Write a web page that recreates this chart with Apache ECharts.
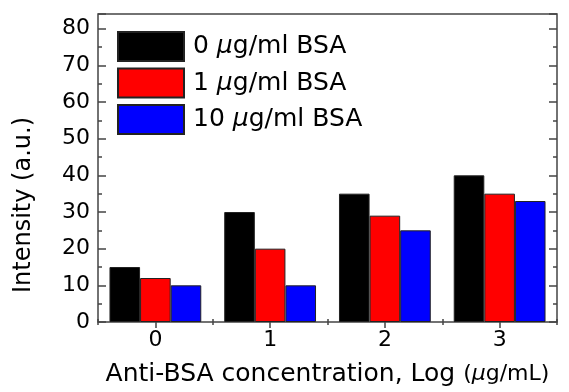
<!DOCTYPE html>
<html>
<head>
<meta charset="utf-8">
<script src="https://cdn.jsdelivr.net/npm/echarts@6/dist/echarts.min.js"></script>
<style>
html,body{margin:0;padding:0;background:#fff;}
#c{width:569px;height:392px;}
</style>
</head>
<body>
<div id="c"></div>
<script>
const categories = ['0', '1', '2', '3'];
const seriesNames = ['0 μg/ml BSA', '1 μg/ml BSA', '10 μg/ml BSA'];
const bsa0 = [15, 30, 35, 40];
const bsa1 = [12, 20, 29, 35];
const bsa10 = [10, 10, 25, 33];
const seriesColors = ['#000000', '#ff0000', '#0000ff'];
const yMin = 0, yMax = 84, yMajor = 10, yMinor = 5;
const xName = 'Anti-BSA concentration, Log ';
const yName = 'Intensity (a.u.)';

const FONT = '"DejaVu Sans", "Liberation Sans", Arial, sans-serif';
const frameColor = '#444';
const textColor = '#000';

function catAxis(pos, align, len, showLabel, extra) {
  return Object.assign({
    type: 'category', data: categories, position: pos,
    axisLine: {show: false},
    axisTick: {show: true, inside: true, alignWithLabel: align, length: len, lineStyle: {color: frameColor, width: 1.5}},
    axisLabel: {show: showLabel, fontFamily: FONT, fontSize: 22, color: textColor, margin: 7},
    splitLine: {show: false}
  }, extra || {});
}
function valAxis(pos, interval, len, showLabel) {
  return {
    type: 'value', position: pos, min: yMin, max: yMax, interval: interval,
    axisLine: {show: false},
    axisTick: {show: true, inside: true, length: len, lineStyle: {color: frameColor, width: 1.5}},
    axisLabel: {show: showLabel, fontFamily: FONT, fontSize: 22, color: textColor, margin: 8,
      formatter: v => (v % yMajor === 0 ? String(v) : '')},
    splitLine: {show: false}
  };
}

const chart = echarts.init(document.getElementById('c'), null, {renderer: 'canvas'});
const dataSets = [bsa0, bsa1, bsa10];
chart.setOption({
  animation: false,
  backgroundColor: '#fff',
  grid: {left: 98, right: 12, top: 14, bottom: 67, containLabel: false, show: true,
    borderColor: frameColor, borderWidth: 1.5, backgroundColor: 'transparent'},
  legend: {
    orient: 'vertical', left: 117, top: 31, padding: 0,
    icon: 'rect',
    itemWidth: 66, itemHeight: 29, itemGap: 5.5,
    data: seriesNames,
    formatter: n => n.replace('μ', '{i|μ}'),
    textStyle: {fontFamily: FONT, fontSize: 25, lineHeight: 29, color: textColor, padding: [0, 0, 0, 4],
      rich: {i: {fontFamily: FONT, fontSize: 25, lineHeight: 29, fontStyle: 'italic', color: textColor}}}
  },
  xAxis: [
    catAxis('bottom', true, 6, true, {
      name: xName + '{s|(}{i|μ}{s|g/mL)}', nameLocation: 'middle', nameGap: 40,
      nameTextStyle: {fontFamily: FONT, fontSize: 25, color: textColor,
        rich: {s: {fontFamily: FONT, fontSize: 22, color: textColor},
               i: {fontFamily: FONT, fontSize: 22, fontStyle: 'italic', color: textColor}}}
    }),
    catAxis('bottom', false, 3, false),
    catAxis('top', true, 6, false),
    catAxis('top', false, 3, false)
  ],
  yAxis: [
    valAxis('left', yMajor, 8, true),
    valAxis('left', yMinor, 4, false),
    valAxis('right', yMajor, 8, false),
    valAxis('right', yMinor, 4, false)
  ],
  graphic: [{
    type: 'text', x: 24, y: 205, rotation: Math.PI / 2,
    style: {text: yName, fontFamily: FONT, fontSize: 24, fill: textColor, align: 'center', verticalAlign: 'middle'}
  }],
  series: seriesNames.map((n, i) => ({
    name: n, type: 'bar', xAxisIndex: 0, yAxisIndex: 0,
    data: dataSets[i],
    barGap: '0%', barCategoryGap: '20%',
    itemStyle: {color: seriesColors[i], borderColor: '#222', borderWidth: 1}
  }))
});
</script>
</body>
</html>
